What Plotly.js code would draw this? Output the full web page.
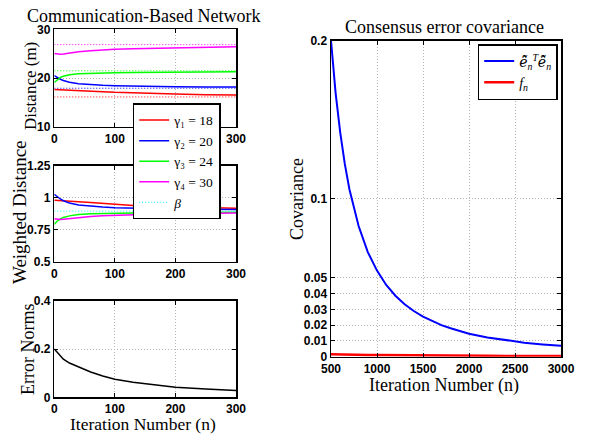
<!DOCTYPE html>
<html>
<head>
<meta charset="utf-8">
<script src="https://cdn.plot.ly/plotly-3.0.1.min.js"></script>
<style>
  html, body { margin: 0; padding: 0; background: #fff; }
  #chart { width: 592px; height: 434px; }
  #chart .xtick text, #chart .ytick text,
  #chart .x2tick text, #chart .y2tick text,
  #chart .x3tick text, #chart .y3tick text,
  #chart .x4tick text, #chart .y4tick text { font-weight: bold !important; }
</style>
</head>
<body>
<div id="chart"></div>
<script>
// Iterations for the three communication-based panels
const iterations = [0, 5, 10, 15, 25, 40, 60, 80, 100, 130, 160, 200, 250, 300];

// Target distances gamma_i and the common scale factor beta
const gammas = [18, 20, 24, 30];
const gammaSubs = ['₁', '₂', '₃', '₄'];
const beta = 0.895;

// Distance (m) for each agent
const distance1 = [17.65, 17.63, 17.6, 17.57, 17.52, 17.45, 17.32, 17.18, 17.05, 16.92, 16.82, 16.7, 16.58, 16.5];
const distance2 = [20.5, 20.1, 19.75, 19.5, 19.12, 18.82, 18.62, 18.5, 18.42, 18.33, 18.27, 18.22, 18.17, 18.14];
const distance3 = [19.1, 19.7, 20.1, 20.38, 20.68, 20.88, 21.0, 21.06, 21.1, 21.15, 21.18, 21.22, 21.27, 21.3];
const distance4 = [25.05, 24.9, 24.88, 24.95, 25.15, 25.4, 25.62, 25.78, 25.9, 26.02, 26.12, 26.25, 26.36, 26.44];

// Weighted distance for each agent
const weighted1 = [0.981, 0.98, 0.978, 0.976, 0.973, 0.969, 0.962, 0.954, 0.946, 0.939, 0.933, 0.927, 0.921, 0.917];
const weighted2 = [1.027, 1.005, 0.99, 0.976, 0.958, 0.943, 0.933, 0.927, 0.922, 0.918, 0.915, 0.912, 0.91, 0.908];
const weighted3 = [0.792, 0.818, 0.834, 0.846, 0.858, 0.868, 0.874, 0.877, 0.879, 0.881, 0.882, 0.884, 0.885, 0.886];
const weighted4 = [0.836, 0.831, 0.83, 0.832, 0.838, 0.846, 0.853, 0.859, 0.863, 0.867, 0.871, 0.875, 0.879, 0.881];

// Error norms
const errorNorms = [0.2, 0.185, 0.17, 0.158, 0.142, 0.125, 0.105, 0.088, 0.0745, 0.062, 0.053, 0.042, 0.034, 0.028];

// Consensus error covariance
const covIterations = [500, 550, 600, 650, 700, 750, 800, 900, 1000, 1100, 1200, 1300, 1400, 1500, 1600, 1700, 1800, 2000, 2200, 2400, 2600, 2800, 3000];
const errCov = [0.2, 0.167, 0.142, 0.122, 0.106, 0.0933, 0.0827, 0.0662, 0.0545, 0.0454, 0.0386, 0.0332, 0.0289, 0.0254, 0.0225, 0.02, 0.018, 0.0145, 0.0122, 0.0104, 0.0089, 0.0078, 0.0069];
const fSeries = [0.0015, 0.0014, 0.0014, 0.0013, 0.0013, 0.0012, 0.0012, 0.0011, 0.001, 0.001, 0.0009, 0.0009, 0.0008, 0.0008, 0.0008, 0.0007, 0.0007, 0.0006, 0.0006, 0.0005, 0.0005, 0.0005, 0.0004];

// Tick labels
const leftXTicks = [0, 100, 200, 300];
const distTicks = [10, 20, 30];
const weightTicks = [0.5, 0.75, 1, 1.25];
const errTicks = [0, 0.2, 0.4];
const covXTicks = [500, 1000, 1500, 2000, 2500, 3000];
const covYTicks = [0, 0.01, 0.02, 0.03, 0.04, 0.05, 0.1, 0.2];

const agentColors = ['#ff0000', '#0000ff', '#00ff00', '#ff00ff'];
const distances = [distance1, distance2, distance3, distance4];
const weighted = [weighted1, weighted2, weighted3, weighted4];

const W = 592, H = 434;
const px = v => v / W;
const py = v => 1 - v / H;

const traces = [];

// Top panel: distances with dotted beta*gamma reference levels
gammas.forEach((g, i) => {
  traces.push({
    x: iterations, y: iterations.map(() => beta * g),
    xaxis: 'x', yaxis: 'y', mode: 'lines', showlegend: false, hoverinfo: 'skip',
    line: { color: agentColors[i], width: 1, dash: '1px,2px' }
  });
});
gammas.forEach((g, i) => {
  traces.push({
    x: iterations, y: distances[i], xaxis: 'x', yaxis: 'y', mode: 'lines',
    name: 'γ' + gammaSubs[i] + ' = ' + g,
    line: { color: agentColors[i], width: 1.5 }
  });
});

// Middle panel: weighted distances and beta
gammas.forEach((g, i) => {
  traces.push({
    x: iterations, y: weighted[i], xaxis: 'x2', yaxis: 'y2', mode: 'lines', showlegend: false,
    line: { color: agentColors[i], width: 1.5 }
  });
});
traces.push({
  x: iterations, y: iterations.map(() => beta), xaxis: 'x2', yaxis: 'y2', mode: 'lines',
  name: '<i>β</i>', line: { color: '#00ffff', width: 1, dash: '1px,2px' }
});

// Bottom panel: error norms
traces.push({
  x: iterations, y: errorNorms, xaxis: 'x3', yaxis: 'y3', mode: 'lines', showlegend: false,
  line: { color: '#000000', width: 1.5 }
});

// Right panel: consensus error covariance
const eHat = '<span style="font-family:DejaVu Serif"><i>\u1EBD\u0302</i></span>';
traces.push({
  x: covIterations, y: errCov, xaxis: 'x4', yaxis: 'y4', mode: 'lines', legend: 'legend2',
  name: eHat + '<sub><i>n</i></sub><sup><i>T</i></sup>' + eHat + '<sub><i>n</i></sub>',
  line: { color: '#0000ff', width: 2 }
});
traces.push({
  x: covIterations, y: fSeries, xaxis: 'x4', yaxis: 'y4', mode: 'lines', legend: 'legend2',
  name: '<i>f<sub>n</sub></i>', line: { color: '#ff0000', width: 2.5 }
});

const tickFont = { family: 'Liberation Sans, Arial, sans-serif', size: 12, color: '#000', weight: 700 };
const serif = 'Liberation Serif, Times New Roman, serif';

function axis(domain, anchor, range, tickvals) {
  return {
    domain: domain, anchor: anchor, range: range, tickmode: 'array',
    tickvals: tickvals, ticktext: tickvals.map(String),
    showline: true, linecolor: '#000', linewidth: 1.5, mirror: 'ticks',
    ticks: 'inside', ticklen: 4, tickwidth: 1, tickcolor: '#000',
    showgrid: true, gridcolor: '#b4b4b4', gridwidth: 1, griddash: '1px,2px',
    zeroline: false, tickfont: tickFont, fixedrange: true
  };
}

const leftX = [px(54.3), px(236)];
const rightX = [px(331), px(561)];
const topY = [py(126.7), py(29.3)];
const midY = [py(261.7), py(165.7)];
const botY = [py(397.3), py(300.7)];
const covY = [py(356.7), py(40.7)];

function label(text, x, y, size, angle) {
  return {
    text: text, xref: 'paper', yref: 'paper', x: px(x), y: py(y),
    xanchor: 'center', yanchor: 'middle', showarrow: false, textangle: angle || 0,
    borderpad: 0,
    font: { family: serif, size: size, color: '#000' }
  };
}

const layout = {
  width: W, height: H,
  margin: { l: 0, r: 0, t: 0, b: 0 },
  paper_bgcolor: '#fff', plot_bgcolor: '#fff',
  showlegend: true,
  xaxis: axis(leftX, 'y', [0, 300], leftXTicks),
  yaxis: axis(topY, 'x', [10, 30], distTicks),
  xaxis2: axis(leftX, 'y2', [0, 300], leftXTicks),
  yaxis2: axis(midY, 'x2', [0.5, 1.25], weightTicks),
  xaxis3: axis(leftX, 'y3', [0, 300], leftXTicks),
  yaxis3: axis(botY, 'x3', [0, 0.4], errTicks),
  xaxis4: axis(rightX, 'y4', [500, 3000], covXTicks),
  yaxis4: axis(covY, 'x4', [0, 0.2], covYTicks),
  legend: {
    x: px(132.7), y: py(103.3), xanchor: 'left', yanchor: 'top',
    bgcolor: '#fff', bordercolor: '#000', borderwidth: 1.5,
    font: { family: serif, size: 13.5, color: '#000' },
    itemwidth: 30, tracegroupgap: 0, traceorder: 'normal'
  },
  legend2: {
    x: px(557.7), y: py(44), xanchor: 'right', yanchor: 'top',
    bgcolor: '#fff', bordercolor: '#000', borderwidth: 1.5,
    font: { family: serif, size: 14, color: '#000' },
    itemwidth: 30
  },
  annotations: [
    label('Communication-Based Network', 143, 16, 18),
    label('Consensus error covariance', 444, 27, 18),
    label('Distance (m)', 30, 86, 17, -90),
    label('Weighted Distance', 19, 212, 19, -90),
    label('Error Norms', 28, 350, 18, -90),
    label('Iteration Number (n)', 143, 424, 17.5),
    label('Covariance', 297, 199, 18, -90),
    label('Iteration Number (n)', 444, 385, 18)
  ]
};

Plotly.newPlot('chart', traces, layout, { displayModeBar: false, staticPlot: true });
</script>
</body>
</html>
